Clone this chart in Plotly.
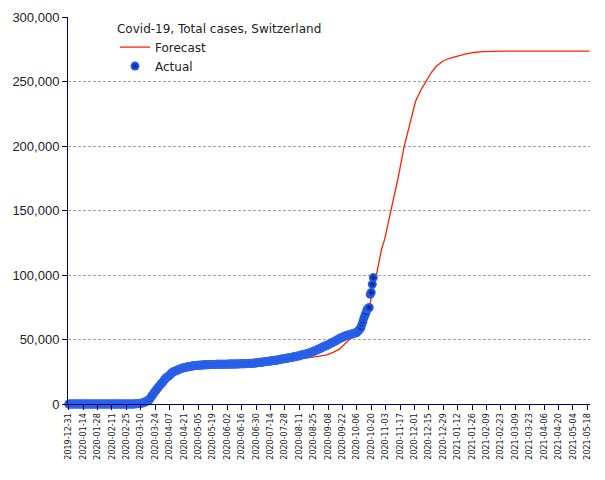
import pandas as pd
import plotly.graph_objects as go

# ---------------- data ----------------
actual_start = "2019-12-31"
# cumulative cases, one value per day starting 2019-12-31
actual_before_feb25 = [0] * 56
actual_feb = [1, 1, 8, 8, 18]  # Feb 25 - Feb 29
actual_mar = [27, 42, 56, 90, 114, 214, 268, 337, 374, 491, 652, 858, 1139, 1359, 2200, 2200, 2700,
              3028, 4075, 5294, 6575, 7474, 8795, 9877, 10897, 11811, 12928, 14076, 14829, 15922, 16605]
actual_apr = [17768, 18827, 19606, 20505, 21100, 21657, 22253, 23280, 24051, 24551, 25107, 25415,
              25688, 25936, 26336, 26732, 27078, 27404, 27740, 27944, 28063, 28268, 28496, 28677,
              28894, 29061, 29164, 29264, 29407, 29586]
actual_may = [29705, 29817, 29905, 29981, 30009, 30060, 30126, 30207, 30251, 30305, 30344, 30380,
              30413, 30463, 30514, 30572, 30587, 30597, 30618, 30658, 30694, 30707, 30725, 30736,
              30746, 30761, 30776, 30796, 30828, 30845, 30862]
actual_jun = [30871, 30874, 30893, 30913, 30936, 30956, 30965, 30972, 30988, 31011, 31044, 31063,
              31094, 31117, 31131, 31154, 31187, 31200, 31235, 31292, 31310, 31332, 31376, 31428,
              31486, 31555, 31617, 31652, 31714, 31851]
actual_jul = [31967, 32120, 32230, 32310, 32370, 32440, 32580, 32680, 32800, 32940, 33020, 33100,
              33180, 33320, 33480, 33590, 33720, 33830, 33890, 34010, 34160, 34290, 34460, 34620,
              34810, 34950, 35090, 35160, 35310, 35500, 35630]
actual_aug = [35820, 35930, 36050, 36190, 36380, 36570, 36740, 36930, 37090, 37200, 37400, 37680,
              37920, 38130, 38300, 38460, 38670, 38800, 39000, 39320, 39590, 39900, 40200, 40480,
              40850, 41180, 41490, 41950, 42330, 42590, 42800]
actual_sep = [43380, 43740, 44140, 44560, 45000, 45190, 45430, 45890, 46290, 46800, 47250, 47710,
              47960, 48300, 48750, 49250, 49710, 50080, 50740, 51000, 51400, 51750, 52080, 52480,
              52780, 53080, 53330, 53570, 53800, 53950]
actual_oct = [54200, 54450, 54700, 54950, 55150, 55400, 56300, 57200, 58200, 59300, 61900, 64400,
              67000, 69000, 70900, 73500, 74000, 74800, 85000, 86400, 92800, 98000]

forecast_dates = ["2019-12-31", "2020-02-25", "2020-03-03", "2020-03-10", "2020-03-17", "2020-03-24",
                  "2020-03-31", "2020-04-07", "2020-04-14", "2020-04-21", "2020-04-28", "2020-05-05",
                  "2020-05-12", "2020-06-24", "2020-07-08", "2020-07-22", "2020-08-05", "2020-08-21",
                  "2020-09-06", "2020-09-13", "2020-09-19", "2020-09-26", "2020-10-03", "2020-10-10",
                  "2020-10-16", "2020-10-21", "2020-10-25", "2020-10-28", "2020-10-30", "2020-11-02",
                  "2020-11-08", "2020-11-15", "2020-11-21", "2020-11-27", "2020-12-02", "2020-12-07",
                  "2020-12-12", "2020-12-17", "2020-12-22", "2020-12-28", "2021-01-04", "2021-01-12",
                  "2021-01-20", "2021-01-28", "2021-02-05", "2021-02-23", "2021-05-20"]
forecast_values = [0, 0, 100, 600, 2600, 9500,
                   16500, 22300, 26000, 28500, 30300, 31800,
                   33500, 33500, 34000, 35000, 35500, 36000,
                   37900, 40000, 42500, 47700, 53000, 58500,
                   68000, 85000, 100000, 112000, 120000, 127600,
                   149500, 175000, 199700, 220000, 234500, 243000,
                   250000, 256500, 261600, 265500, 268000, 270000,
                   271400, 272500, 273200, 273500, 273500]

title_text = "Covid-19, Total cases, Switzerland"
series_names = ["Forecast", "Actual"]

# --------------------------------------
actual_values = (actual_before_feb25 + actual_feb + actual_mar + actual_apr + actual_may +
                 actual_jun + actual_jul + actual_aug + actual_sep + actual_oct)
actual_dates = pd.date_range(actual_start, periods=len(actual_values), freq="D")

fig = go.Figure()
fig.add_trace(go.Scatter(
    x=pd.to_datetime(forecast_dates), y=forecast_values, mode="lines", name=series_names[0],
    line=dict(color="#ff2000", width=1.3), cliponaxis=False,
))
fig.add_trace(go.Scatter(
    x=actual_dates, y=actual_values, mode="markers", name=series_names[1],
    marker=dict(size=9, color="#2e68f5", line=dict(width=0),
                gradient=dict(type="radial", color="#001a80")),
    cliponaxis=False,
))

axis_col = "#000060"
# page body has an 8px margin, so the figure is sized to fit the 605x480 window
fig.update_layout(
    width=597, height=472,
    margin=dict(l=60, r=15, t=9, b=76, autoexpand=False),
    paper_bgcolor="white", plot_bgcolor="white",
    font=dict(family="DejaVu Sans", size=12, color="#222"),
    showlegend=True,
    legend=dict(
        x=0.09, y=1.0, xanchor="left", yanchor="top",
        bgcolor="rgba(0,0,0,0)",
        font=dict(family="DejaVu Sans", size=12, color="#222"),
        title=dict(text=title_text, font=dict(family="DejaVu Sans", size=12, color="#222")),
        tracegroupgap=0,
    ),
    xaxis=dict(
        type="date", automargin=False,
        range=["2019-12-30 07:00", "2021-05-20 14:00"],
        tick0="2019-12-31", dtick=14 * 86400000, tickformat="%Y-%m-%d",
        tickangle=-90, ticks="outside", ticklen=5, tickcolor=axis_col,
        showline=True, linecolor=axis_col, linewidth=1,
        showgrid=False, zeroline=False,
        tickfont=dict(family="DejaVu Sans", size=8, color="#111"),
    ),
    yaxis=dict(
        range=[0, 300000], dtick=50000, tickformat=",d", automargin=False,
        ticks="outside", ticklen=5, tickcolor=axis_col,
        showline=True, linecolor=axis_col, linewidth=1,
        showgrid=True, gridcolor="#a0a0a0", griddash="3px,2px", gridwidth=1,
        zeroline=False,
        tickfont=dict(family="Liberation Sans", size=13, color="#222"),
    ),
)

fig.write_html("out.html")
